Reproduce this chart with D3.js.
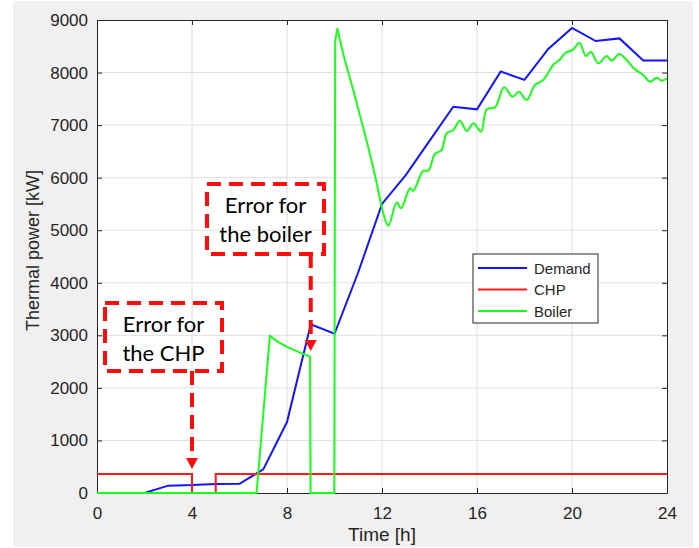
<!DOCTYPE html>
<html>
<head>
<meta charset="utf-8">
<script src="https://cdn.jsdelivr.net/npm/d3@7"></script>
<style>
  body { margin: 0; background: #fff; }
  svg { display: block; }
</style>
</head>
<body>
<svg width="699" height="548"></svg>
<script>
// hourly demand [kW]
const hours = [0,1,2,3,4,5,6,7,8,9,10,11,12,13,14,15,16,17,18,19,20,21,22,23,24];
const demand = [0,0,0,140,150,170,175,450,1350,3210,3030,4200,5500,6050,6700,7350,7300,8020,7860,8450,8850,8600,8650,8230,8230];

// CHP output (steps)
const chpTime = [0,4,4,5,5,24];
const chpValue = [360,360,0,0,360,360];

// boiler output, first part (linear pieces)
const boilerTimeA = [0,6.72,7.28,7.6,8,8.5,8.97,8.99,9.99,10.03,10.12];
const boilerValueA = [0,0,2993,2880,2780,2680,2594,0,0,8600,8840];
// boiler output, second part (smooth)
const boilerTimeB = [10.12,10.4,10.79,11.15,11.49,11.75,11.95,12.1,12.27,12.62,12.8,13.18,13.32,13.74,13.95,14.23,14.51,14.72,15.0,15.28,15.57,15.85,16.17,16.41,16.76,17.14,17.5,17.77,18.09,18.44,18.79,19.24,19.47,19.71,20.06,20.31,20.59,20.79,21.11,21.46,21.67,21.99,22.3,22.65,23.0,23.28,23.57,23.78,24];
const boilerValueB = [8840,8300,7667,7050,6450,5950,5520,5250,5086,5530,5417,5797,5752,6133,6133,6450,6526,6843,6906,7083,6887,7034,6875,7300,7338,7719,7540,7636,7477,7762,7858,8162,8238,8366,8442,8568,8314,8397,8175,8314,8225,8352,8238,8061,7953,7826,7902,7845,7890];

const xTicks = [0,4,8,12,16,20,24];
const yTicks = [0,1000,2000,3000,4000,5000,6000,7000,8000,9000];

const seriesNames = ["Demand", "CHP", "Boiler"];
const seriesColors = ["#1414ff", "#ff1a1a", "#1aff1a"];

const svg = d3.select("svg");
const pLeft = 97, pRight = 667, pTop = 20, pBottom = 493;
const font = "Liberation Sans, Arial, Helvetica, sans-serif";

svg.append("rect").attr("x", 13).attr("y", 1).attr("width", 680).attr("height", 546).attr("fill", "#f0f0f0");
svg.append("rect").attr("x", pLeft).attr("y", pTop).attr("width", pRight - pLeft).attr("height", pBottom - pTop).attr("fill", "#fff");

const x = d3.scaleLinear().domain([0, 24]).range([pLeft, pRight]);
const y = d3.scaleLinear().domain([0, 9000]).range([pBottom, pTop]);

// grid
svg.append("g").selectAll("line").data(xTicks.slice(1, -1)).enter().append("line")
    .attr("x1", d => x(d)).attr("x2", d => x(d)).attr("y1", pTop).attr("y2", pBottom)
    .attr("stroke", "#dfdfdf").attr("stroke-width", 1);
svg.append("g").selectAll("line").data(yTicks.slice(1, -1)).enter().append("line")
    .attr("y1", d => y(d)).attr("y2", d => y(d)).attr("x1", pLeft).attr("x2", pRight)
    .attr("stroke", "#dfdfdf").attr("stroke-width", 1);

// axes (MATLAB style, ticks inward)
const axisColor = "#262626";
svg.append("g").attr("transform", `translate(0,${pBottom})`)
    .call(d3.axisBottom(x).tickValues(xTicks).tickSizeInner(-5).tickSizeOuter(0).tickPadding(14));
svg.append("g").attr("transform", `translate(${pLeft},0)`)
    .call(d3.axisLeft(y).tickValues(yTicks).tickFormat(d3.format("d")).tickSizeInner(-5).tickSizeOuter(0).tickPadding(9));
svg.append("g").attr("transform", `translate(0,${pTop})`)
    .call(d3.axisTop(x).tickValues(xTicks).tickSizeInner(-5).tickSizeOuter(0).tickFormat(""));
svg.append("g").attr("transform", `translate(${pRight},0)`)
    .call(d3.axisRight(y).tickValues(yTicks).tickSizeInner(-5).tickSizeOuter(0).tickFormat(""));
svg.selectAll(".domain").attr("stroke", axisColor);
svg.selectAll(".tick line").attr("stroke", axisColor);
svg.selectAll(".tick text").attr("fill", axisColor).style("font-family", font).style("font-size", "17px");

svg.append("text").attr("x", (pLeft + pRight) / 2).attr("y", 541).attr("text-anchor", "middle")
    .attr("fill", axisColor).style("font-family", font).style("font-size", "19px")
    .text("Time [h]");
svg.append("text").attr("transform", `translate(39,${(pTop + pBottom) / 2 - 6}) rotate(-90)`).attr("text-anchor", "middle")
    .attr("fill", axisColor).style("font-family", font).style("font-size", "18px")
    .text("Thermal power [kW]");

// lines
svg.append("clipPath").attr("id", "plot").append("rect")
    .attr("x", pLeft).attr("y", pTop - 2).attr("width", pRight - pLeft).attr("height", pBottom - pTop + 4);
const plot = svg.append("g").attr("clip-path", "url(#plot)");

const line = d3.line().x(d => x(d[0])).y(d => y(d[1]));
const smooth = d3.line().x(d => x(d[0])).y(d => y(d[1])).curve(d3.curveCatmullRom.alpha(0.5));

plot.append("path").attr("d", line(hours.map((h, i) => [h, demand[i]])))
    .attr("fill", "none").attr("stroke", seriesColors[0]).attr("stroke-width", 2);
plot.append("path").attr("d", line(chpTime.map((h, i) => [h, chpValue[i]])))
    .attr("fill", "none").attr("stroke", seriesColors[1]).attr("stroke-width", 2);
plot.append("path").attr("d", line(boilerTimeA.map((h, i) => [h, boilerValueA[i]])))
    .attr("fill", "none").attr("stroke", seriesColors[2]).attr("stroke-width", 2).attr("stroke-linejoin", "round");
plot.append("path").attr("d", smooth(boilerTimeB.map((h, i) => [h, boilerValueB[i]])))
    .attr("fill", "none").attr("stroke", seriesColors[2]).attr("stroke-width", 2).attr("stroke-linejoin", "round");

// legend
const legend = svg.append("g").attr("transform", "translate(473,254)");
legend.append("rect").attr("width", 125).attr("height", 69).attr("fill", "#fff").attr("stroke", axisColor).attr("stroke-width", 1);
seriesNames.forEach((name, i) => {
    const ly = 14 + i * 21.5;
    legend.append("line").attr("x1", 5).attr("x2", 54).attr("y1", ly).attr("y2", ly)
        .attr("stroke", seriesColors[i]).attr("stroke-width", 2);
    legend.append("text").attr("x", 61).attr("y", ly + 5.5).attr("fill", axisColor)
        .style("font-family", font).style("font-size", "15px").text(name);
});

// annotations
const notes = [
    { box: [105, 303, 222, 371], lines: ["Error for", "the CHP"], arrowX: 4, tip: 469 },
    { box: [207, 184, 324, 254], lines: ["Error for", "the boiler"], arrowX: 9, tip: 351 }
];
const red = "#ff0d0d";
notes.forEach(n => {
    const [x0, y0, x1, y1] = n.box;
    const g = svg.append("g");
    g.append("rect").attr("x", x0).attr("y", y0).attr("width", x1 - x0).attr("height", y1 - y0)
        .attr("fill", "none").attr("stroke", red).attr("stroke-width", 4).attr("stroke-dasharray", "14,8");
    const ax = x(n.arrowX);
    g.append("line").attr("x1", ax).attr("x2", ax).attr("y1", y1).attr("y2", n.tip - 9)
        .attr("stroke", red).attr("stroke-width", 4).attr("stroke-dasharray", "14,8");
    g.append("path").attr("d", `M${ax - 6},${n.tip - 11}L${ax + 6},${n.tip - 11}L${ax},${n.tip}Z`).attr("fill", red);
    n.lines.forEach((t, i) => {
        g.append("text").attr("x", (x0 + x1) / 2).attr("y", y0 + 28.5 + i * 29).attr("text-anchor", "middle")
            .attr("fill", "#000").style("font-family", "Lato, Open Sans, sans-serif").style("font-size", "22px").text(t);
    });
});
</script>
</body>
</html>
